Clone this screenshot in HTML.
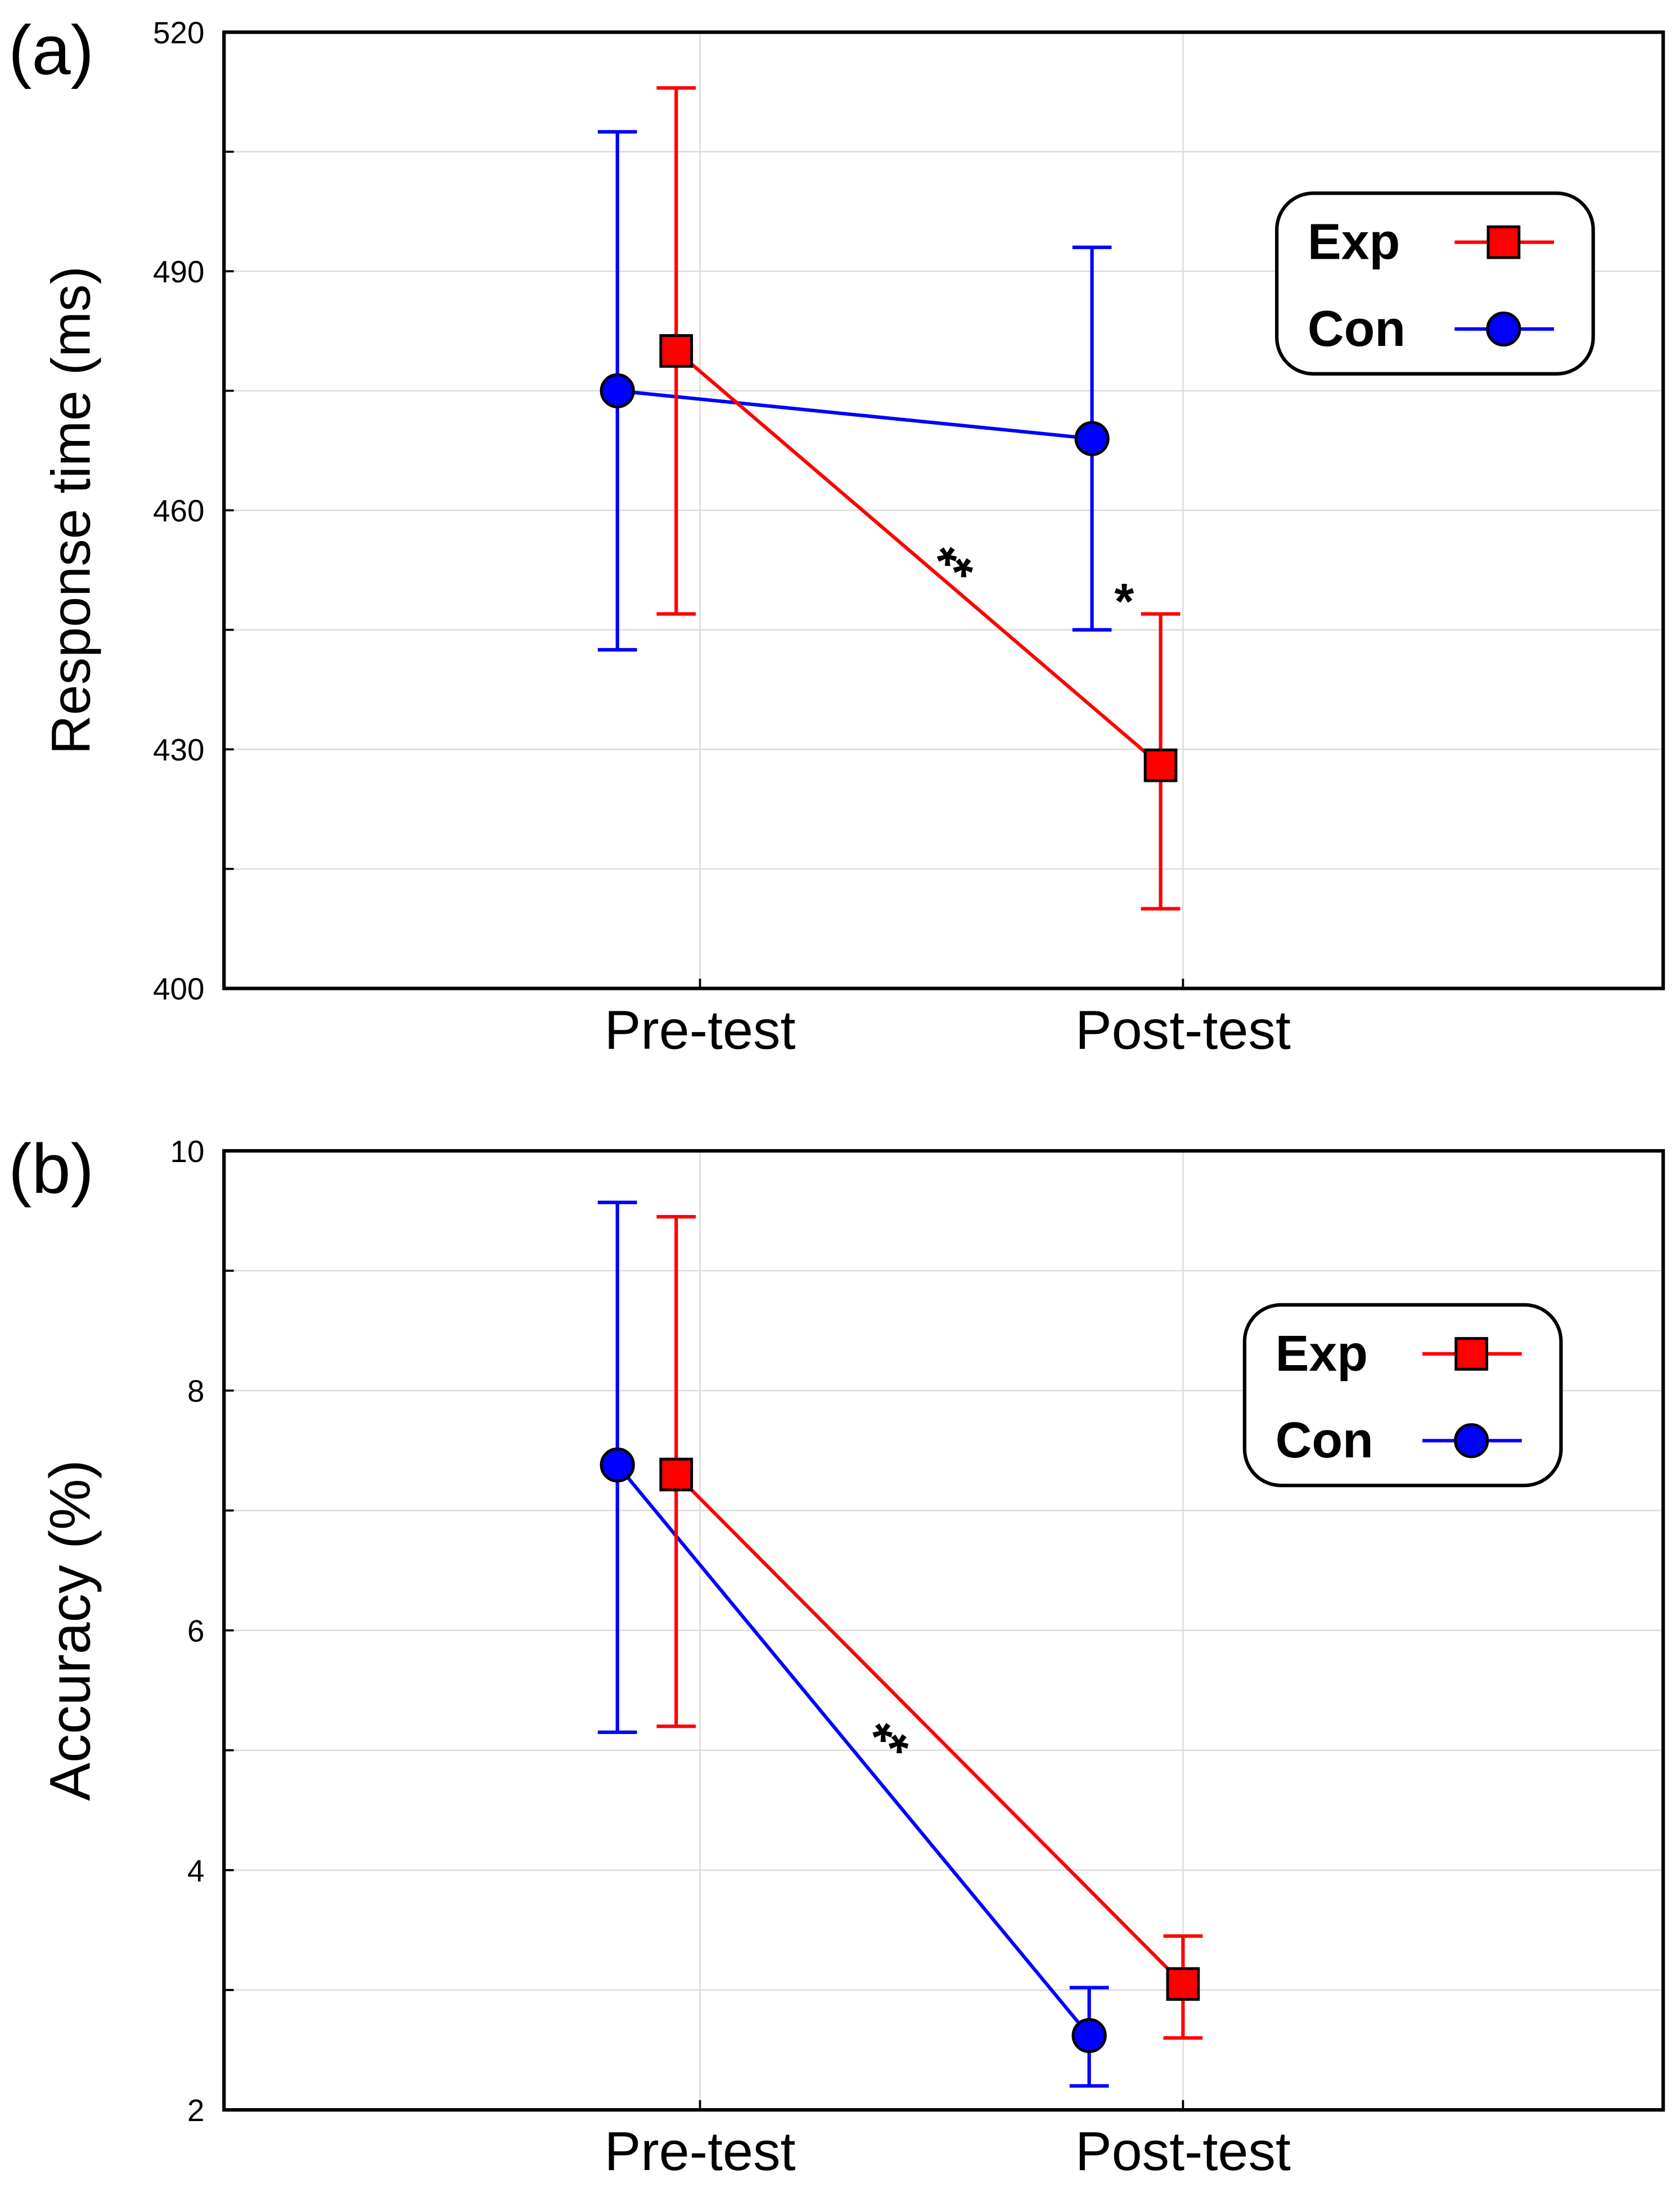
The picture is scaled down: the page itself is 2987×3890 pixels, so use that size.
<!DOCTYPE html>
<html><head><meta charset="utf-8"><style>html,body{margin:0;padding:0;background:#fff}svg{display:block}</style></head>
<body>
<svg id="fig" width="2987" height="3890" viewBox="0 0 1200 1562.8" preserveAspectRatio="none" xmlns="http://www.w3.org/2000/svg" font-family="Liberation Sans, sans-serif"></svg>
<script>
const categories = ["Pre-test","Post-test"];
// Panel a
const aTicks = [400,430,460,490,520];
const aExp = [480, 428];
const aExpLo = [447, 410];
const aExpHi = [513, 447];
const aCon = [475, 469];
const aConLo = [442.5, 445];
const aConHi = [507.5, 493];
// Panel b
const bTicks = [2,4,6,8,10];
const bExp = [7.3, 3.05];
const bExpLo = [5.2, 2.6];
const bExpHi = [9.45, 3.45];
const bCon = [7.38, 2.62];
const bConLo = [5.15, 2.2];
const bConHi = [9.57, 3.02];

const NS="http://www.w3.org/2000/svg";
const svg=document.getElementById('fig');
function mk(tag,attrs,parent){const e=document.createElementNS(NS,tag);for(const k in attrs)e.setAttribute(k,attrs[k]);(parent||svg).appendChild(e);return e;}

function panel(cfg){
  const g=mk('g',{});
  
  
  const L=160,R=1188,T=cfg.top,B=cfg.bottom;
  const ymin=cfg.ticks[0],ymax=cfg.ticks[cfg.ticks.length-1];
  const y=v=>B-(v-ymin)/(ymax-ymin)*(B-T);
  const xc=[500,845];
  const step=cfg.ticks[1]-cfg.ticks[0];
  for(let v=ymin+step/2;v<ymax;v+=step/2){
    const gl=mk('line',{x1:L,x2:R,y1:y(v),y2:y(v),stroke:'#dcdcdc','stroke-width':1},g);
    
    
    mk('line',{x1:L,x2:L+7,y1:y(v),y2:y(v),stroke:'#000','stroke-width':1.5},g);
  }
  xc.forEach(x=>{mk('line',{x1:x,x2:x,y1:T,y2:B,stroke:'#dcdcdc','stroke-width':1},g);mk('line',{x1:x,x2:x,y1:B,y2:B-7,stroke:'#000','stroke-width':1.5},g);});
  const box=mk('rect',{x:L,y:T,width:R-L,height:B-T,fill:'none',stroke:'#000','stroke-width':2.5},g);
  
  
  cfg.ticks.forEach(v=>{
    const t=mk('text',{x:146,y:y(v)+8,'text-anchor':'end','font-size':22},g);
    t.textContent=v;
    
    
  });
  categories.forEach((c,i)=>{
    const t=mk('text',{x:xc[i],y:B+43,'text-anchor':'middle','font-size':39},g);
    t.textContent=c;
    
    
  });
  const yl=mk('text',{x:0,y:0,'text-anchor':'middle','font-size':cfg.ylsize,transform:`translate(64,${(T+B)/2}) rotate(-90)`},g);
  yl.textContent=cfg.ylabel;
  
  
  const pl=mk('text',{x:6,y:T+30,'font-size':50},g);
  pl.textContent=cfg.label;
  
  
  function series(vals,lo,hi,xs,color,shape,nm){
    const sg=mk('g',{},g);
    
    
    vals.forEach((v,i)=>{
      const x=xs[i];
      mk('line',{x1:x,x2:x,y1:y(lo[i]),y2:y(hi[i]),stroke:color,'stroke-width':2.5},sg);
      mk('line',{x1:x-14,x2:x+14,y1:y(lo[i]),y2:y(lo[i]),stroke:color,'stroke-width':2.5},sg);
      mk('line',{x1:x-14,x2:x+14,y1:y(hi[i]),y2:y(hi[i]),stroke:color,'stroke-width':2.5},sg);
    });
    mk('line',{x1:xs[0],y1:y(vals[0]),x2:xs[1],y2:y(vals[1]),stroke:color,'stroke-width':2.5},sg);
    vals.forEach((v,i)=>{
      const m=shape==='sq'?mk('rect',{x:xs[i]-11,y:y(v)-11,width:22,height:22,fill:color,stroke:'#000','stroke-width':2},sg)
        :mk('circle',{cx:xs[i],cy:y(v),r:11.5,fill:color,stroke:'#000','stroke-width':2},sg);
      
      
    });
  }
  series(cfg.con,cfg.conLo,cfg.conHi,cfg.conX,'#0000ff','c','con-series');
  series(cfg.exp,cfg.expLo,cfg.expHi,cfg.expX,'#ff0000','sq','exp-series');
  cfg.stars.forEach(s=>{
    const t=mk('text',{x:s[0],y:s[1],'font-size':36,'font-weight':'bold','text-anchor':'middle',transform:`rotate(${s[3]} ${s[0]} ${s[1]})`},g);
    t.textContent=s[2];
    
    
  });
  const lx=cfg.legend[0],ly=cfg.legend[1];
  const lg=mk('g',{},g);
  
  
  mk('rect',{x:lx,y:ly,width:226,height:129,rx:26,fill:'#fff',stroke:'#000','stroke-width':2.5},lg);
  [['Exp','#ff0000','sq',ly+35],['Con','#0000ff','c',ly+97]].forEach(e=>{
    const t=mk('text',{x:lx+22,y:e[3]+12,'font-size':36,'font-weight':'bold'},lg);
    t.textContent=e[0];
    
    
    mk('line',{x1:lx+127,x2:lx+198,y1:e[3],y2:e[3],stroke:e[1],'stroke-width':2.5},lg);
    if(e[2]==='sq')mk('rect',{x:lx+151,y:e[3]-11,width:22,height:22,fill:e[1],stroke:'#000','stroke-width':2},lg);
    else mk('circle',{cx:lx+162,cy:e[3],r:11.5,fill:e[1],stroke:'#000','stroke-width':2},lg);
  });
}
panel({name:'panel-a-response-time',label:'(a)',ylabel:'Response time (ms)',ylsize:39,top:23,bottom:706,ticks:aTicks,
  exp:aExp,expLo:aExpLo,expHi:aExpHi,expX:[483,829],con:aCon,conLo:aConLo,conHi:aConHi,conX:[441,780],
  stars:[[672,416,'**',35],[803,442,'*',0]],legend:[912,138]});
panel({name:'panel-b-accuracy',label:'(b)',ylabel:'Accuracy (%)',ylsize:41,top:822,bottom:1507,ticks:bTicks,
  exp:bExp,expLo:bExpLo,expHi:bExpHi,expX:[483,845],con:bCon,conLo:bConLo,conHi:bConHi,conX:[441,778],
  stars:[[626,1256,'**',35]],legend:[889,932]});
</script>
</body></html>
